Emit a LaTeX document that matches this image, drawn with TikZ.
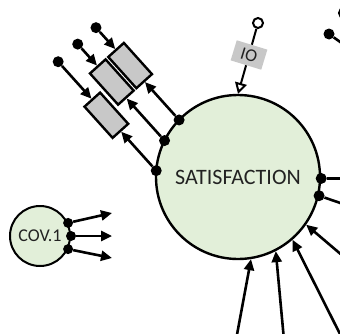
\documentclass[tikz,border=0pt]{standalone}
\usepackage{fontspec}
\setmainfont{Carlito}
\usepackage{tikz}
\usetikzlibrary{arrows.meta}
\definecolor{latgreen}{HTML}{E2EFD9}
\definecolor{boxgray}{HTML}{C8C8C8}
\definecolor{labelgray}{HTML}{222222}
\tikzset{
  latent/.style={circle,draw=black,line width=2.4pt,fill=latgreen,text=labelgray,inner sep=0pt},
  blackdot/.style={circle,fill=black,inner sep=0pt,minimum size=11pt},
  opendot/.style={circle,draw=black,fill=white,line width=2pt,inner sep=0pt,minimum size=10pt},
  errbox/.style={rectangle,draw=black,line width=2.4pt,fill=boxgray,minimum width=42pt,minimum height=21pt,inner sep=0pt},
  iobox/.style={rectangle,fill=boxgray,text=labelgray,minimum width=32pt,minimum height=21pt,inner sep=1pt,font=\fontsize{18}{18}\selectfont},
  link/.style={line width=2.6pt},
  arr/.style={line width=2.6pt,-{Triangle[length=11pt,width=10pt]}}
}

\begin{document}
\begin{tikzpicture}[x=1pt,y=1pt]
  \useasboundingbox (0,0) rectangle (340,333);
  \clip (0,0) rectangle (340,333);
  \node[latent,minimum size=164pt,font=\fontsize{22}{26}\selectfont] (sat) at (238,156) {SATISFACTION};
  \node[latent,minimum size=60pt,line width=2pt,font=\fontsize{18}{20}\selectfont] (cov) at (40,97) {COV.1};
  \begin{scope}[shift={(sat.center)},rotate=132]
    \foreach \i/\b/\e in {1/5.6/155,2/30.2/155,3/56.5/134} {
      \node[blackdot] (d\i) at ({sqrt(82*82-\b*\b)},\b) {};
      \node[errbox,rotate=132] (e\i) at (\e,\b) {};
      \node[blackdot] (p\i) at (206,\b) {};
      \draw[arr] (p\i) -- (e\i.east);
      \draw[arr] (d\i) -- (e\i.west);
    }
  \end{scope}
  \node[opendot] (iotop) at (258,310) {};
  \node[iobox,rotate=-17] (io) at (249,278) {IO};
  \draw[line width=2pt] (iotop) -- (io);
  \draw[line width=2pt,-{Triangle[open,length=11pt,width=12pt]}] (io) -- (sat.north);
  \node[opendot] (cut1) at (344,320) {};
  \node[blackdot] (cut2) at (329,299) {};
  \coordinate (cut2end) at (350,284);
  \draw[link] (cut2) -- (cut2end);
  \node[blackdot] (r1) at (sat.-1) {};
  \coordinate (r1end) at (350,154.5);
  \draw[link] (r1) -- (r1end);
  \node[blackdot] (r2) at (sat.-13) {};
  \coordinate (r2end) at (352,126);
  \draw[link] (r2) -- (r2end);
  \foreach \i/\a/\x/\y in {1/-81/236/-7,2/-63/284/-7,3/-49/343/-7,4/-35/350/71} {
    \coordinate (in\i) at (\x,\y);
    \draw[arr] (in\i) -- (sat.\a);
  }
  \foreach \i/\a/\y in {1/25/120,2/0/97,3/-25/75} {
    \node[blackdot,minimum size=10pt] (c\i) at (cov.\a) {};
    \coordinate (ce\i) at (112,\y);
    \draw[arr] (c\i) -- (ce\i);
  }
\end{tikzpicture}
\end{document}
